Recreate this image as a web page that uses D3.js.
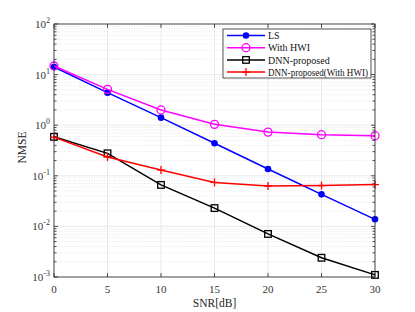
<!DOCTYPE html>
<html><head><meta charset="utf-8">
<script src="https://cdn.jsdelivr.net/npm/d3@7/dist/d3.min.js"></script>
<style>body{margin:0;background:#fff}svg{display:block}text{font-family:"Liberation Serif","DejaVu Serif",serif}</style>
</head><body><svg id="c" width="415" height="312"></svg>
<script>
const snr = [0, 5, 10, 15, 20, 25, 30];
const ls = [14.1, 4.4, 1.41, 0.44, 0.136, 0.043, 0.0138];
const withHWI = [14.8, 5.1, 2.0, 1.04, 0.73, 0.65, 0.62];
const dnn = [0.59, 0.278, 0.066, 0.023, 0.0071, 0.0024, 0.0011];
const dnnHWI = [0.58, 0.236, 0.13, 0.074, 0.063, 0.064, 0.067];
const seriesNames = ["LS", "With HWI", "DNN-proposed", "DNN-proposed(With HWI)"];
const xTicks = [0, 5, 10, 15, 20, 25, 30];
const yExps = [-3, -2, -1, 0, 1, 2];

const svg = d3.select("#c");
const L = 54, R = 375, T = 24, B = 277;
const x = d3.scaleLinear().domain([0, 30]).range([L, R]);
const y = d3.scaleLog().domain([1e-3, 1e2]).range([B, T]);

const minors = [];
for (let e = -3; e < 2; e++) for (let m = 2; m <= 9; m++) minors.push(m * Math.pow(10, e));
const g = svg.append("g");
g.selectAll(".mg").data(minors).join("line")
  .attr("x1", L).attr("x2", R).attr("y1", d => y(d)).attr("y2", d => y(d))
  .attr("stroke", "#d8d8d8").attr("stroke-width", 0.6).attr("stroke-dasharray", "1,1.5");
g.selectAll(".Mg").data(yExps).join("line")
  .attr("x1", L).attr("x2", R).attr("y1", d => y(Math.pow(10, d))).attr("y2", d => y(Math.pow(10, d)))
  .attr("stroke", "#e3e3e3").attr("stroke-width", 0.8);
g.selectAll(".xg").data(xTicks).join("line")
  .attr("x1", d => x(d)).attr("x2", d => x(d)).attr("y1", T).attr("y2", B)
  .attr("stroke", "#e3e3e3").attr("stroke-width", 0.8);

const ax = svg.append("g").attr("stroke", "#262626").attr("stroke-width", 0.8);
const tl = 4, mtl = 2.5;
xTicks.forEach(t => {
  ax.append("line").attr("x1", x(t)).attr("x2", x(t)).attr("y1", B).attr("y2", B - tl);
  ax.append("line").attr("x1", x(t)).attr("x2", x(t)).attr("y1", T).attr("y2", T + tl);
});
yExps.forEach(e => {
  const yy = y(Math.pow(10, e));
  ax.append("line").attr("x1", L).attr("x2", L + tl).attr("y1", yy).attr("y2", yy);
  ax.append("line").attr("x1", R).attr("x2", R - tl).attr("y1", yy).attr("y2", yy);
});
minors.forEach(d => {
  const yy = y(d);
  ax.append("line").attr("x1", L).attr("x2", L + mtl).attr("y1", yy).attr("y2", yy);
  ax.append("line").attr("x1", R).attr("x2", R - mtl).attr("y1", yy).attr("y2", yy);
});

svg.selectAll(".xl").data(xTicks).join("text")
  .attr("x", d => x(d)).attr("y", B + 16).attr("text-anchor", "middle")
  .attr("font-size", 11).attr("fill", "#333").text(d => d);
yExps.forEach(e => {
  const t = svg.append("text").attr("x", L - 4).attr("y", y(Math.pow(10, e)) + 4)
    .attr("text-anchor", "end").attr("font-size", 11).attr("fill", "#333");
  t.append("tspan").text("10");
  t.append("tspan").attr("dy", -5).attr("font-size", 8).text(e);
});
svg.append("text").attr("x", (L + R) / 2).attr("y", 307).attr("text-anchor", "middle")
  .attr("font-size", 11.5).attr("fill", "#222").text("SNR[dB]");
svg.append("text").attr("transform", `translate(26,${(T + B) / 2 - 3}) rotate(-90)`)
  .attr("text-anchor", "middle").attr("font-size", 11.5).attr("fill", "#222").text("NMSE");

const series = [
  { name: seriesNames[0], v: ls, c: "#0000ff", m: "dot" },
  { name: seriesNames[1], v: withHWI, c: "#ff00ff", m: "circle" },
  { name: seriesNames[2], v: dnn, c: "#000000", m: "square" },
  { name: seriesNames[3], v: dnnHWI, c: "#ff0000", m: "plus" }
];
const line = d3.line().x((d, i) => x(snr[i])).y(d => y(d));
function marker(sel, m, c, cx, cy) {
  if (m === "dot") sel.append("circle").attr("cx", cx).attr("cy", cy).attr("r", 3.3).attr("fill", c);
  else if (m === "circle") sel.append("circle").attr("cx", cx).attr("cy", cy).attr("r", 4).attr("fill", "none").attr("stroke", c).attr("stroke-width", 1.3);
  else if (m === "square") sel.append("rect").attr("x", cx - 3.3).attr("y", cy - 3.3).attr("width", 6.6).attr("height", 6.6).attr("fill", "none").attr("stroke", c).attr("stroke-width", 1.3);
  else {
    sel.append("line").attr("x1", cx - 4).attr("x2", cx + 4).attr("y1", cy).attr("y2", cy).attr("stroke", c).attr("stroke-width", 1.3);
    sel.append("line").attr("x1", cx).attr("x2", cx).attr("y1", cy - 4).attr("y2", cy + 4).attr("stroke", c).attr("stroke-width", 1.3);
  }
}
series.forEach(s => {
  svg.append("path").datum(s.v).attr("d", line).attr("fill", "none").attr("stroke", s.c).attr("stroke-width", 1.5);
  const mg = svg.append("g");
  s.v.forEach((v, i) => marker(mg, s.m, s.c, x(snr[i]), y(v)));
});

svg.append("rect").attr("x", L).attr("y", T).attr("width", R - L).attr("height", B - T)
  .attr("fill", "none").attr("stroke", "#262626").attr("stroke-width", 0.8);

const lx = 223, ly = 29, lw = 148, lh = 49;
const lg = svg.append("g");
lg.append("rect").attr("x", lx).attr("y", ly).attr("width", lw).attr("height", lh)
  .attr("fill", "#fff").attr("stroke", "#262626").attr("stroke-width", 0.8);
series.forEach((s, i) => {
  const yy = ly + 6.5 + i * 12.2;
  lg.append("line").attr("x1", lx + 4).attr("x2", lx + 42).attr("y1", yy).attr("y2", yy).attr("stroke", s.c).attr("stroke-width", 1.5);
  marker(lg, s.m, s.c, lx + 23, yy);
  const t = lg.append("text").attr("x", lx + 45).attr("y", yy + 3.6).attr("font-size", 10).attr("fill", "#111").text(s.name);
  const w = t.node().getComputedTextLength();
  const maxW = lw - 48;
  if (w > maxW) t.attr("textLength", maxW).attr("lengthAdjust", "spacingAndGlyphs");
});
</script></body></html>
